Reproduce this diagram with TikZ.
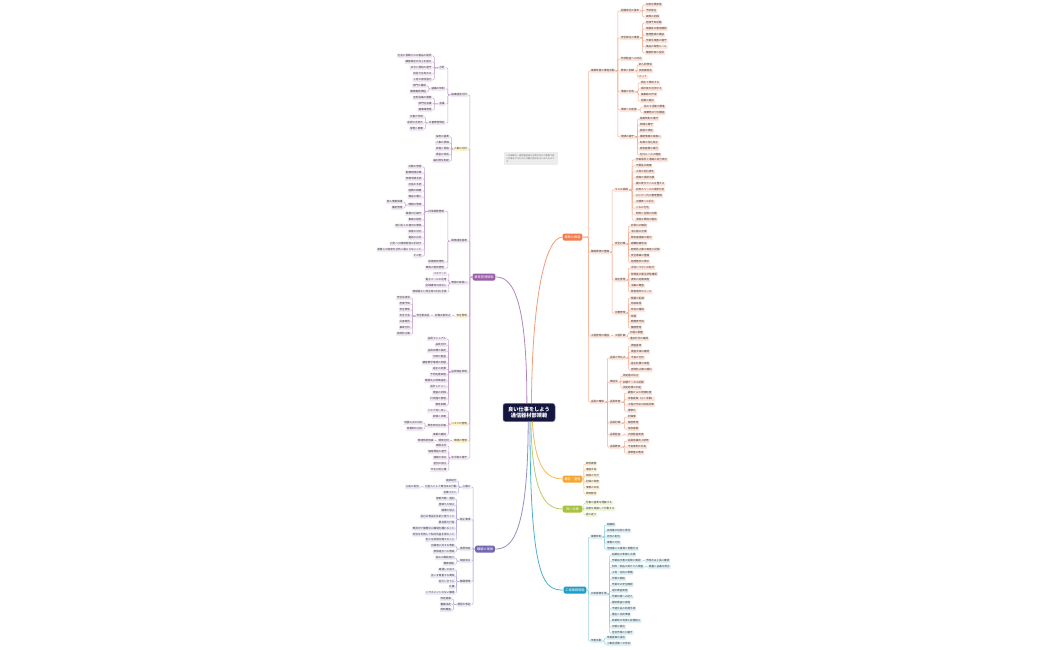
\documentclass[tikz,border=0pt]{standalone}
\usepackage{fontspec}
\setmainfont{Noto Sans CJK JP}
\XeTeXlinebreaklocale "ja"
\usepackage{xcolor}
\definecolor{rootblue}{HTML}{15163F}
\definecolor{inkgray}{HTML}{3A3A3A}
\definecolor{orangemain}{HTML}{F27A4B}
\definecolor{orangeln}{HTML}{F6AE92}
\definecolor{orangepale}{HTML}{FDE5DB}
\definecolor{yellowmain}{HTML}{F7A631}
\definecolor{yellowln}{HTML}{F9CB85}
\definecolor{yellowpale}{HTML}{FEF0D9}
\definecolor{greenmain}{HTML}{A8C23E}
\definecolor{greenln}{HTML}{C9DC88}
\definecolor{greenpale}{HTML}{F0F6DC}
\definecolor{tealmain}{HTML}{1C9EC6}
\definecolor{tealln}{HTML}{96D1E3}
\definecolor{tealpale}{HTML}{DFF1F7}
\definecolor{purplemain}{HTML}{9A5BA8}
\definecolor{purpleln}{HTML}{C9A6D4}
\definecolor{purplepale}{HTML}{F2E7F4}
\definecolor{markyellow}{HTML}{FFF1C9}
\definecolor{violetmain}{HTML}{7467B1}
\definecolor{violetln}{HTML}{B5AEDB}
\definecolor{violetpale}{HTML}{ECE9F6}
\definecolor{memogray}{HTML}{ECECEC}
\usepackage{tikz}
\tikzstyle{rootbox} = [rectangle, rounded corners=2.5, fill=rootblue, draw=rootblue!60, line width=0.5, text=white, font=\fontsize{5.2}{6.4}\selectfont\bfseries, align=center, minimum width=52, minimum height=17]
\tikzstyle{mainbox} = [rectangle, rounded corners=1.5, text=white, font=\fontsize{3.2}{4}\selectfont, inner xsep=1.8, inner ysep=1.4, minimum height=7, minimum width=19.6]
\tikzstyle{leaf} = [rectangle, rounded corners=0.7, inner sep=0.8, minimum height=4.4, font=\fontsize{2.6}{3}\selectfont, text=inkgray]
\tikzstyle{oleaf} = [leaf, fill=orangepale, anchor=west]
\tikzstyle{yleaf} = [leaf, fill=yellowpale, anchor=west]
\tikzstyle{gleaf} = [leaf, fill=greenpale, anchor=west]
\tikzstyle{tleaf} = [leaf, fill=tealpale, anchor=west]
\tikzstyle{pleaf} = [leaf, fill=purplepale, anchor=east]
\tikzstyle{pmark} = [leaf, fill=markyellow, anchor=east]
\tikzstyle{vleaf} = [leaf, fill=violetpale, anchor=east]
\tikzstyle{memobox} = [rectangle, fill=memogray, text=black!55, font=\fontsize{2.2}{2.9}\selectfont, text width=49, inner sep=2.5]
\tikzstyle{trunk} = [line width=0.8]
\tikzstyle{ocon} = [color=orangeln, line width=0.5]
\tikzstyle{ycon} = [color=yellowln, line width=0.5]
\tikzstyle{gcon} = [color=greenln, line width=0.5]
\tikzstyle{tcon} = [color=tealln, line width=0.5]
\tikzstyle{pcon} = [color=purpleln, line width=0.5]
\tikzstyle{vcon} = [color=violetln, line width=0.5]
\tikzset{
  rjoin/.style={every edge/.style={draw, rounded corners=1, to path={(\tikztostart.east) -- ++(#1,0) |- (\tikztotarget.west)}}},
  rjoin/.default=3,
  ljoin/.style={every edge/.style={draw, rounded corners=1, to path={(\tikztostart.west) -- ++(-#1,0) |- (\tikztotarget.east)}}},
  ljoin/.default=3
}

\begin{document}
\begin{tikzpicture}[x=1pt, y=-1pt]

    \fill[white] (0,0) rectangle (1050,650);
    \useasboundingbox (0,0) rectangle (1050,650);

    \node (root) [rootbox] at (529,412.5) {良い仕事をしよう\\通信器材部規範};
    \node (memo) [memobox] at (530.5,158.5) {この規範は、通信器材部の全員が日々の業務で良い仕事をするための行動の指針をまとめたものです。};

    \node (O) [mainbox, fill=orangemain] at (572.5,237) {業務の推進};
    \node (Y) [mainbox, fill=yellowmain] at (572.5,479) {報告・連絡};
    \node (G) [mainbox, fill=greenmain] at (572.5,509) {良い仕事};
    \node (T) [mainbox, fill=tealmain] at (575,590) {工場業務規範};
    \node (P) [mainbox, fill=purplemain] at (484,277) {業務管理規範};
    \node (V) [mainbox, fill=violetmain] at (485,549) {職場の規律};

    \draw[trunk, color=orangemain!75] (root.75) .. controls (532,300) and (545,237) .. (O.west);
    \draw[trunk, color=yellowmain!80] (root.290) .. controls (535,470) and (548,479) .. (Y.west);
    \draw[trunk, color=greenmain!80] (root.282) .. controls (532,500) and (548,509) .. (G.west);
    \draw[trunk, color=tealmain!80] (root.276) .. controls (530,585) and (545,590) .. (T.west);
    \draw[trunk, color=purplemain!75] (root.103) .. controls (527,290) and (510,277) .. (P.east);
    \draw[trunk, color=violetmain!75] (root.265) .. controls (528,540) and (510,549) .. (V.east);

    % right, upper branch
    \node (o1) [oleaf] at (590,71) {業務改善の推進活動};
    \node (o2) [oleaf] at (590,252) {職場環境の整備};
    \node (o3) [oleaf] at (590,336) {工程管理の徹底};
    \node (o4) [oleaf] at (590,402) {品質の確保};
    \draw[ocon, rjoin=6] (O) edge (o1) edge (o2) edge (o3) edge (o4);

    \node (o1a) [oleaf] at (620,11) {設備保全の基本};
    \node (o1b) [oleaf] at (620,38) {安全衛生の推進};
    \node (o1c) [oleaf] at (620,59) {外部監査への対応};
    \node (o1d) [oleaf] at (620,71) {教育と訓練};
    \node (o1e) [oleaf] at (620,92) {情報の共有};
    \node (o1f) [oleaf] at (620,110) {環境への配慮};
    \node (o1g) [oleaf] at (620,137) {規律の遵守};
    \draw[ocon, rjoin=2.5] (o1) edge (o1a) edge (o1b) edge (o1c) edge (o1d) edge (o1e) edge (o1f) edge (o1g);

    \node (o1a1) [oleaf] at (645,5) {日常点検実施};
    \node (o1a2) [oleaf] at (645,11) {予防保全};
    \node (o1a3) [oleaf] at (645,17) {故障の記録};
    \draw[ocon, rjoin=2.5] (o1a) edge (o1a1) edge (o1a2) edge (o1a3);

    \node (o1b1) [oleaf] at (645,23) {危険予知活動};
    \node (o1b2) [oleaf] at (645,29) {保護具の着用確認};
    \node (o1b3) [oleaf] at (645,35) {整理整頓の徹底};
    \node (o1b4) [oleaf] at (645,41) {作業手順書の遵守};
    \node (o1b5) [oleaf] at (645,47) {薬品の保管ルール};
    \node (o1b6) [oleaf] at (645,53) {健康診断の受診};
    \draw[ocon, rjoin=2.5] (o1b) edge (o1b1) edge (o1b2) edge (o1b3) edge (o1b4) edge (o1b5) edge (o1b6);

    \node (o1d1) [oleaf] at (638,65) {新人研修会};
    \node (o1d2) [oleaf] at (638,71) {技能講習会};
    \node (o1d3) [oleaf] at (638,77) {ＯＪＴ};
    \draw[ocon, rjoin=2] (o1d) edge (o1d1) edge (o1d2) edge (o1d3);

    \node (o1e1) [oleaf] at (640,83) {朝礼で周知する};
    \node (o1e2) [oleaf] at (640,89) {掲示板を活用する};
    \node (o1e3) [oleaf] at (640,95) {議事録の作成};
    \node (o1e4) [oleaf] at (640,101) {週報の提出};
    \draw[ocon] (o1e) [rjoin=3] edge (o1e1) edge (o1e2) edge (o1e3) edge (o1e4);

    \node (o1f1) [oleaf] at (643,107) {省エネ活動の推進};
    \node (o1f2) [oleaf] at (643,113) {廃棄物の分別徹底};
    \draw[ocon, rjoin=3] (o1f) edge (o1f1) edge (o1f2);

    \node (o1g1) [oleaf] at (639,119) {就業規則の遵守};
    \node (o1g2) [oleaf] at (639,125) {時間の厳守};
    \node (o1g3) [oleaf] at (639,131) {服装の規定};
    \node (o1g4) [oleaf] at (639,137) {機密情報の取扱い};
    \node (o1g5) [oleaf] at (639,143) {私物の持込禁止};
    \node (o1g6) [oleaf] at (639,149) {報告義務の履行};
    \node (o1g7) [oleaf] at (639,155) {社内ルールの徹底};
    \draw[ocon, rjoin=2.5] (o1g) edge (o1g1) edge (o1g2) edge (o1g3) edge (o1g4) edge (o1g5) edge (o1g6) edge (o1g7);

    \node (o2a) [oleaf] at (614,190) {５Ｓの実践};
    \node (o2b) [oleaf] at (614,244) {安全対策};
    \node (o2c) [oleaf] at (614,280) {衛生管理};
    \node (o2d) [oleaf] at (614,313) {労務管理};
    \draw[ocon, rjoin=2] (o2) edge (o2a) edge (o2b) edge (o2c) edge (o2d);

    \node (o2a1) [oleaf] at (635,160) {作業場所と通路の区分表示};
    \node (o2a2) [oleaf] at (635,166) {不要品の廃棄};
    \node (o2a3) [oleaf] at (635,172) {工具の定位置化};
    \node (o2a4) [oleaf] at (635,178) {床面の清掃点検};
    \node (o2a5) [oleaf] at (635,184) {棚の表示ラベルを整える};
    \node (o2a6) [oleaf] at (635,190) {共用スペースの清掃分担};
    \node (o2a7) [oleaf] at (635,196) {ロッカー内の整理整頓};
    \node (o2a8) [oleaf] at (635,202) {点検表への記入};
    \node (o2a9) [oleaf] at (635,208) {ごみの分別};
    \node (o2a10) [oleaf] at (635,214) {照明と空調の点検};
    \node (o2a11) [oleaf] at (635,220) {清潔な環境の維持};
    \draw[ocon, rjoin=3] (o2a) edge (o2a1) edge (o2a2) edge (o2a3) edge (o2a4) edge (o2a5) edge (o2a6) edge (o2a7) edge (o2a8) edge (o2a9) edge (o2a10) edge (o2a11);

    \node (o2b1) [oleaf] at (630,226) {非常口の確認};
    \node (o2b2) [oleaf] at (630,232) {消火器の点検};
    \node (o2b3) [oleaf] at (630,238) {緊急連絡網の掲示};
    \node (o2b4) [oleaf] at (630,244) {避難訓練参加};
    \node (o2b5) [oleaf] at (630,250) {転倒防止策の実施と記録};
    \node (o2b6) [oleaf] at (630,256) {安全標識の整備};
    \node (o2b7) [oleaf] at (630,262) {危険箇所の表示};
    \draw[ocon, rjoin=2] (o2b) edge (o2b1) edge (o2b2) edge (o2b3) edge (o2b4) edge (o2b5) edge (o2b6) edge (o2b7);

    \node (o2c1) [oleaf] at (630,268) {手洗いうがいの励行};
    \node (o2c2) [oleaf] at (630,274) {休憩室の衛生状態確認};
    \node (o2c3) [oleaf] at (630,280) {換気の定期実施};
    \node (o2c4) [oleaf] at (630,286) {消毒の徹底};
    \node (o2c5) [oleaf] at (630,292) {飲食場所のルール};
    \draw[ocon, rjoin=2] (o2c) edge (o2c1) edge (o2c2) edge (o2c3) edge (o2c4) edge (o2c5);

    \node (o2d1) [oleaf] at (630,298) {残業の削減};
    \node (o2d2) [oleaf] at (630,304) {有給取得};
    \node (o2d3) [oleaf] at (630,310) {休日の確保};
    \node (o2d4) [oleaf] at (630,316) {休憩};
    \node (o2d5) [oleaf] at (630,322) {勤務表作成};
    \node (o2d6) [oleaf] at (630,328) {健康管理};
    \draw[ocon, rjoin=2] (o2d) edge (o2d1) edge (o2d2) edge (o2d3) edge (o2d4) edge (o2d5) edge (o2d6);

    \node (o3a) [oleaf] at (614,336) {工程計画};
    \draw[ocon, rjoin=2] (o3) edge (o3a);
    \node (o3a1) [oleaf] at (629,333) {日程の調整};
    \node (o3a2) [oleaf] at (629,339) {進捗状況の確認};
    \draw[ocon, rjoin=1.5] (o3a) edge (o3a1) edge (o3a2);

    \node (o4a) [oleaf] at (609,358) {品質の作込み};
    \node (o4b) [oleaf] at (609,382) {検証法};
    \node (o4c) [oleaf] at (609,402) {品質改善};
    \node (o4d) [oleaf] at (609,423) {品質記録};
    \node (o4e) [oleaf] at (609,435) {品質監査};
    \node (o4f) [oleaf] at (609,447) {品質教育};
    \draw[ocon, rjoin=2.4] (o4) edge (o4a) edge (o4b) edge (o4c) edge (o4d) edge (o4e) edge (o4f);

    \node (o4a1) [oleaf] at (630,346) {検査基準};
    \node (o4a2) [oleaf] at (630,352) {検査手順の確認};
    \node (o4a3) [oleaf] at (630,358) {不良の分析};
    \node (o4a4) [oleaf] at (630,364) {是正処置の実施};
    \node (o4a5) [oleaf] at (630,370) {再発防止策の検討};
    \draw[ocon, rjoin=2] (o4a) edge (o4a1) edge (o4a2) edge (o4a3) edge (o4a4) edge (o4a5);

    \node (o4b1) [oleaf] at (622,376) {測定器の校正};
    \node (o4b2) [oleaf] at (622,382) {試験データの記録};
    \node (o4b3) [oleaf] at (622,388) {測定結果の判定};
    \draw[ocon, rjoin=2] (o4b) edge (o4b1) edge (o4b2) edge (o4b3);

    \node (o4c1) [oleaf] at (627,393) {顧客からの苦情処理};
    \node (o4c2) [oleaf] at (627,399) {改善提案（ＱＣ活動）};
    \node (o4c3) [oleaf] at (627,405) {工程内不良の削減対策};
    \node (o4c4) [oleaf] at (627,411) {標準化};
    \draw[ocon, rjoin=3] (o4c) edge (o4c1) edge (o4c2) edge (o4c3) edge (o4c4);

    \node (o4d1) [oleaf] at (627,417) {記録簿};
    \node (o4d2) [oleaf] at (627,423) {履歴管理};
    \node (o4d3) [oleaf] at (627,429) {保存期間};
    \draw[ocon, rjoin=3] (o4d) edge (o4d1) edge (o4d2) edge (o4d3);

    \node (o4e1) [oleaf] at (627,435) {内部監査実施};
    \draw[ocon, rjoin=3] (o4e) edge (o4e1);

    \node (o4f1) [oleaf] at (627,441) {品質意識向上研修};
    \node (o4f2) [oleaf] at (627,447) {不良事例の共有};
    \node (o4f3) [oleaf] at (627,453) {標準書の教育};
    \draw[ocon, rjoin=3] (o4f) edge (o4f1) edge (o4f2) edge (o4f3);

    % right, small branches
    \node (y1) [yleaf] at (585,464) {報告義務};
    \node (y2) [yleaf] at (585,470) {連絡手段};
    \node (y3) [yleaf] at (585,476) {相談の仕方};
    \node (y4) [yleaf] at (585,482) {記録の保管};
    \node (y5) [yleaf] at (585,488) {情報の共有};
    \node (y6) [yleaf] at (585,494) {即時報告};
    \draw[ycon, rjoin=1.3] (Y) edge (y1) edge (y2) edge (y3) edge (y4) edge (y5) edge (y6);

    \node (g1) [gleaf] at (585,503) {仕事の基準を理解する};
    \node (g2) [gleaf] at (585,509) {役割を意識して行動する};
    \node (g3) [gleaf] at (585,515) {振り返り};
    \draw[gcon, rjoin=1.3] (G) edge (g1) edge (g2) edge (g3);

    % right, lower branch
    \node (t1) [tleaf] at (590,537) {業務体制};
    \node (t2) [tleaf] at (590,594) {日常業務手順};
    \node (t3) [tleaf] at (590,641) {改善活動};
    \draw[tcon, rjoin=1.8] (T) edge (t1) edge (t2) edge (t3);

    \node (t1a) [tleaf] at (606,525) {組織図};
    \node (t1b) [tleaf] at (606,531) {各部署の役割と責任};
    \node (t1c) [tleaf] at (606,537) {担当の割当};
    \node (t1d) [tleaf] at (606,543) {業務の分担};
    \node (t1e) [tleaf] at (606,549) {他部署との連携と調整方法};
    \draw[tcon, rjoin=2] (t1) edge (t1a) edge (t1b) edge (t1c) edge (t1d) edge (t1e);

    \node (t2a) [tleaf] at (611,555) {始業前の準備と点検};
    \node (t2b) [tleaf] at (611,561) {作業指示書の受領と確認};
    \node (t2c) [tleaf] at (611,567) {材料・部品の受け入れ検査};
    \node (t2d) [tleaf] at (611,573) {工具・治具の準備};
    \node (t2e) [tleaf] at (611,579) {作業の開始};
    \node (t2f) [tleaf] at (611,585) {作業中の安全確認};
    \node (t2g) [tleaf] at (611,591) {途中検査実施};
    \node (t2h) [tleaf] at (611,597) {作業日報への記入};
    \node (t2i) [tleaf] at (611,603) {最終検査の実施};
    \node (t2j) [tleaf] at (611,609) {不適合品の処置手順};
    \node (t2k) [tleaf] at (611,615) {梱包と出荷準備};
    \node (t2l) [tleaf] at (611,621) {終業時の清掃と設備停止};
    \node (t2m) [tleaf] at (611,627) {日報の提出};
    \node (t2n) [tleaf] at (611,633) {翌日作業の引継ぎ};
    \draw[tcon, rjoin=2] (t2) edge (t2a) edge (t2b) edge (t2c) edge (t2d) edge (t2e) edge (t2f) edge (t2g) edge (t2h) edge (t2i) edge (t2j) edge (t2k) edge (t2l) edge (t2m) edge (t2n);

    \node (t2b1) [tleaf] at (645,561) {不明点は上長に確認};
    \node (t2c1) [tleaf] at (648,567) {数量と品番を照合};
    \draw[tcon, rjoin=2] (t2b) edge (t2b1);
    \draw[tcon, rjoin=2] (t2c) edge (t2c1);

    \node (t3a) [tleaf] at (606,638) {改善提案の提出};
    \node (t3b) [tleaf] at (606,644) {小集団活動への参加};
    \draw[tcon, rjoin=2] (t3) edge (t3a) edge (t3b);

    % left, upper branch
    \node (p1) [pleaf] at (468,95) {組織運営方針};
    \node (p2) [pmark] at (468,149) {人事の方針};
    \node (p3) [pleaf] at (468,241) {業務運営基準};
    \node (p4) [pleaf] at (468,283) {情報の取扱い};
    \node (p5) [pmark] at (468,316) {安全管理};
    \node (p6) [pleaf] at (468,372) {品質保証体制};
    \node (p7) [pmark] at (468,424) {リスクの管理};
    \node (p8) [pmark] at (468,441) {環境の管理};
    \node (p9) [pleaf] at (468,458) {法令等の遵守};
    \draw[pcon, ljoin=2.6] (P) edge (p1) edge (p2) edge (p3) edge (p4) edge (p5) edge (p6) edge (p7) edge (p8) edge (p9);

    \node (p1a) [pleaf] at (445.5,68) {方針};
    \node (p1b) [pleaf] at (445.5,89) {組織の体制};
    \node (p1c) [pleaf] at (445.5,104) {会議};
    \node (p1d) [pleaf] at (445.5,123) {文書管理規定};
    \draw[pcon, ljoin=2.5] (p1) edge (p1a) edge (p1b) edge (p1c) edge (p1d);

    \node (p1a1) [pleaf] at (432.5,56) {社会に信頼される製品の提供};
    \node (p1a2) [pleaf] at (432.5,62) {顧客満足の向上を図る};
    \node (p1a3) [pleaf] at (432.5,68) {法令と規則の遵守};
    \node (p1a4) [pleaf] at (432.5,74) {技術力を高める};
    \node (p1a5) [pleaf] at (432.5,80) {人材の育成強化};
    \draw[pcon, ljoin=4] (p1a) edge (p1a1) edge (p1a2) edge (p1a3) edge (p1a4) edge (p1a5);

    \node (p1b1) [pleaf] at (427,86) {部門の構成};
    \node (p1b2) [pleaf] at (427,92) {職務権限規程};
    \draw[pcon, ljoin=2] (p1b) edge (p1b1) edge (p1b2);

    \node (p1c1) [pleaf] at (432.5,98) {定例会議の開催};
    \node (p1c2) [pleaf] at (432.5,104) {部門別会議};
    \node (p1c3) [pleaf] at (432.5,110) {議事録管理};
    \draw[pcon, ljoin=4] (p1c) edge (p1c1) edge (p1c2) edge (p1c3);

    \node (p1d1) [pleaf] at (424,117) {文書の作成};
    \node (p1d2) [pleaf] at (424,123) {承認の手続き};
    \node (p1d3) [pleaf] at (424,129) {保管と廃棄};
    \draw[pcon, ljoin=2.3] (p1d) edge (p1d1) edge (p1d2) edge (p1d3);

    \node (p2a) [pleaf] at (450,137) {採用の基準};
    \node (p2b) [pleaf] at (450,143) {人事の評価};
    \node (p2c) [pleaf] at (450,149) {昇進と昇格};
    \node (p2d) [pleaf] at (450,155) {賃金の体系};
    \node (p2e) [pleaf] at (450,161) {福利厚生制度};
    \draw[pcon, ljoin=1.6] (p2) edge (p2a) edge (p2b) edge (p2c) edge (p2d) edge (p2e);

    \node (p3a) [pleaf] at (445,211.5) {日常業務管理};
    \node (p3b) [pleaf] at (445,262) {設備使用規則};
    \node (p3c) [pleaf] at (445,268) {車両の使用管理};
    \draw[pcon, ljoin=2.5] (p3) edge (p3a) edge (p3b) edge (p3c);

    \node (p3a1) [pleaf] at (422.5,167) {出勤の管理};
    \node (p3a2) [pleaf] at (422.5,173) {勤務時間記録};
    \node (p3a3) [pleaf] at (422.5,179) {休暇申請手続};
    \node (p3a4) [pleaf] at (422.5,185) {出張の手続};
    \node (p3a5) [pleaf] at (422.5,191) {経費の精算};
    \node (p3a6) [pleaf] at (422.5,197) {備品の購入};
    \node (p3a7) [pleaf] at (422.5,205) {情報の管理};
    \node (p3a8) [pleaf] at (422.5,214) {業務の引継ぎ};
    \node (p3a9) [pleaf] at (422.5,220) {事故の報告};
    \node (p3a10) [pleaf] at (422.5,226) {取引先との適切な関係};
    \node (p3a11) [pleaf] at (422.5,232) {来客の対応};
    \node (p3a12) [pleaf] at (422.5,238) {電話の応対};
    \node (p3a13) [pleaf] at (422.5,244) {社外への情報発信の手続き};
    \node (p3a14) [pleaf] at (422.5,250) {業務上の秘密を社外に漏らさないこと};
    \node (p3a15) [pleaf] at (422.5,256) {その他};
    \draw[pcon, ljoin=3] (p3a) edge (p3a1) edge (p3a2) edge (p3a3) edge (p3a4) edge (p3a5) edge (p3a6) edge (p3a7) edge (p3a8) edge (p3a9) edge (p3a10) edge (p3a11) edge (p3a12) edge (p3a13) edge (p3a14) edge (p3a15);

    \node (p3a7a) [pleaf] at (403.5,202) {個人情報保護};
    \node (p3a7b) [pleaf] at (403.5,208) {機密管理};
    \draw[pcon, ljoin=2.5] (p3a7) edge (p3a7a) edge (p3a7b);

    \node (p4a) [pleaf] at (447.5,274) {パスワード};
    \node (p4b) [pleaf] at (447.5,280) {電子メールの利用};
    \node (p4c) [pleaf] at (447.5,286) {記録媒体の持出し};
    \node (p4d) [pleaf] at (447.5,292) {情報漏えい発生時の対応手順};
    \draw[pcon, ljoin=1.5] (p4) edge (p4a) edge (p4b) edge (p4c) edge (p4d);

    \node (p5a) [pleaf] at (451.5,316) {労働災害防止};
    \draw[pcon, ljoin=2.5] (p5) edge (p5a);
    \node (p5b) [pleaf] at (430.5,316) {安全委員会};
    \draw[pcon, ljoin=2] (p5a) edge (p5b);

    \node (p5b1) [pleaf] at (411,298) {安全巡視会};
    \node (p5b2) [pleaf] at (411,304) {危険予知};
    \node (p5b3) [pleaf] at (411,310) {安全表彰};
    \node (p5b4) [pleaf] at (411,316) {安全大会};
    \node (p5b5) [pleaf] at (411,322) {災害報告};
    \node (p5b6) [pleaf] at (411,328) {事故分析};
    \node (p5b7) [pleaf] at (411,334) {再発防止策};
    \draw[pcon, ljoin=3] (p5b) edge (p5b1) edge (p5b2) edge (p5b3) edge (p5b4) edge (p5b5) edge (p5b6) edge (p5b7);

    \node (p6a) [pleaf] at (447,339) {品質マニュアル};
    \node (p6b) [pleaf] at (447,345) {品質方針};
    \node (p6c) [pleaf] at (447,351) {品質目標の設定};
    \node (p6d) [pleaf] at (447,357) {内部の監査};
    \node (p6e) [pleaf] at (447,363) {顧客要求事項の把握};
    \node (p6f) [pleaf] at (447,369) {是正の処置};
    \node (p6g) [pleaf] at (447,375) {予防処置実施};
    \node (p6h) [pleaf] at (447,381) {購買先の評価選定};
    \node (p6i) [pleaf] at (447,387) {設計レビュー};
    \node (p6j) [pleaf] at (447,393) {検査の記録};
    \node (p6k) [pleaf] at (447,399) {計測器の管理};
    \node (p6l) [pleaf] at (447,405) {教育訓練};
    \draw[pcon, ljoin=2] (p6) edge (p6a) edge (p6b) edge (p6c) edge (p6d) edge (p6e) edge (p6f) edge (p6g) edge (p6h) edge (p6i) edge (p6j) edge (p6k) edge (p6l);

    \node (p7a) [pleaf] at (447,411) {リスク洗い出し};
    \node (p7b) [pleaf] at (447,417) {評価と対策};
    \node (p7c) [pleaf] at (447,426) {緊急時対応計画};
    \node (p7d) [pleaf] at (447,435) {事業の継続};
    \draw[pcon, ljoin=2] (p7) edge (p7a) edge (p7b) edge (p7c) edge (p7d);

    \node (p7c1) [pleaf] at (423.5,423) {地震火災の対応};
    \node (p7c2) [pleaf] at (423.5,429) {停電時の対応};
    \draw[pcon, ljoin=2] (p7c) edge (p7c1) edge (p7c2);

    \node (p8a) [pleaf] at (450,441) {環境方針};
    \node (p8b) [pleaf] at (434.5,441) {環境負荷低減};
    \draw[pcon, ljoin=2] (p8) edge (p8a);
    \draw[pcon, ljoin=2] (p8a) edge (p8b);

    \node (p9a) [pleaf] at (447.5,446) {関係法令};
    \node (p9b) [pleaf] at (447.5,452) {倫理規程の遵守};
    \node (p9c) [pleaf] at (447.5,458) {通報の窓口};
    \node (p9d) [pleaf] at (447.5,464) {差別の禁止};
    \node (p9e) [pleaf] at (447.5,470) {不正の防止策};
    \draw[pcon, ljoin=1.5] (p9) edge (p9a) edge (p9b) edge (p9c) edge (p9d) edge (p9e);

    % left, lower branch
    \node (v1) [vleaf] at (471.5,487) {心構え};
    \node (v2) [vleaf] at (471.5,519.5) {禁止事項};
    \node (v3) [vleaf] at (471.5,549) {賞罰規定};
    \node (v4) [vleaf] at (471.5,561) {相談窓口};
    \node (v5) [vleaf] at (471.5,581.5) {職場環境};
    \node (v6) [vleaf] at (471.5,604.5) {規則の改定};
    \draw[vcon, ljoin=2] (V) edge (v1) edge (v2) edge (v3) edge (v4) edge (v5) edge (v6);

    \node (v1a) [vleaf] at (457.5,481) {挨拶励行};
    \node (v1b) [vleaf] at (457.5,487) {社会人として責任ある行動};
    \node (v1c) [vleaf] at (457.5,493) {言葉づかい};
    \draw[vcon, ljoin=3] (v1) edge (v1a) edge (v1b) edge (v1c);
    \node (v1b1) [vleaf] at (420,487) {公私の区別};
    \draw[vcon, ljoin=2.5] (v1b) edge (v1b1);

    \node (v2a) [vleaf] at (455.5,499) {無断欠勤・遅刻};
    \node (v2b) [vleaf] at (455.5,505) {居眠りの禁止};
    \node (v2c) [vleaf] at (455.5,510.5) {賭博の禁止};
    \node (v2d) [vleaf] at (455.5,516.5) {会社の物品を私的に使うこと};
    \node (v2e) [vleaf] at (455.5,522.5) {暴言暴力行為};
    \node (v2f) [vleaf] at (455.5,528.5) {無許可で勤務中に職場を離れること};
    \node (v2g) [vleaf] at (455.5,534.5) {地位を利用して私的利益を得ること};
    \node (v2h) [vleaf] at (455.5,540) {他人を誹謗中傷すること};
    \draw[vcon, ljoin=2.5] (v2) edge (v2a) edge (v2b) edge (v2c) edge (v2d) edge (v2e) edge (v2f) edge (v2g) edge (v2h);

    \node (v3a) [vleaf] at (455.5,546) {功績者に対する表彰};
    \node (v3b) [vleaf] at (455.5,552) {規律違反への懲戒};
    \draw[vcon, ljoin=2.5] (v3) edge (v3a) edge (v3b);

    \node (v4a) [vleaf] at (455,558) {悩みの相談窓口};
    \node (v4b) [vleaf] at (455,564) {健康相談};
    \draw[vcon, ljoin=2.5] (v4) edge (v4a) edge (v4b);

    \node (v5a) [vleaf] at (455.5,570) {風通しの良さ};
    \node (v5b) [vleaf] at (455.5,576) {互いを尊重する関係};
    \node (v5c) [vleaf] at (455.5,581.5) {協力し合う心};
    \node (v5d) [vleaf] at (455.5,587) {礼儀};
    \node (v5e) [vleaf] at (455.5,593) {ハラスメントのない職場};
    \draw[vcon, ljoin=2.5] (v5) edge (v5a) edge (v5b) edge (v5c) edge (v5d) edge (v5e);

    \node (v6a) [vleaf] at (452,599) {改定提案};
    \node (v6b) [vleaf] at (452,604.5) {審議決定};
    \node (v6c) [vleaf] at (452,610) {周知徹底};
    \draw[vcon, ljoin=3] (v6) edge (v6a) edge (v6b) edge (v6c);

\end{tikzpicture}
\end{document}
